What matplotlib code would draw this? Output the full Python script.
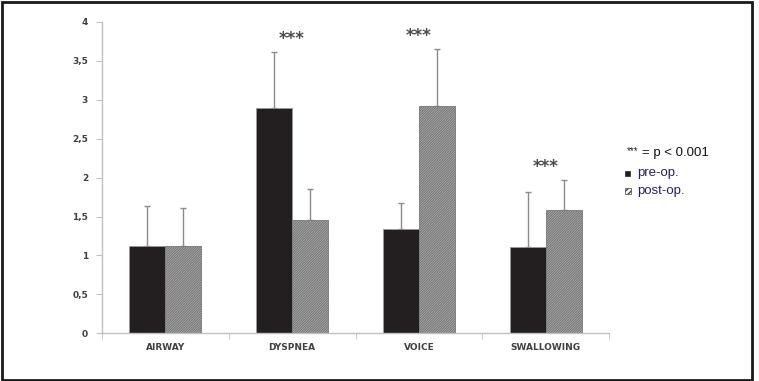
import matplotlib
matplotlib.use("Agg")
import matplotlib.pyplot as plt
import numpy as np
from matplotlib.patches import Rectangle

categories = ["AIRWAY", "DYSPNEA", "VOICE", "SWALLOWING"]
pre_op = [1.12, 2.89, 1.34, 1.11]
post_op = [1.12, 1.46, 2.92, 1.58]
pre_err = [0.52, 0.72, 0.33, 0.71]
post_err = [0.49, 0.40, 0.73, 0.39]
signif = ["", "***", "***", "***"]
yticks = [0, 0.5, 1, 1.5, 2, 2.5, 3, 3.5, 4]
ytick_labels = ["0", "0,5", "1", "1,5", "2", "2,5", "3", "3,5", "4"]

plt.rcParams['hatch.linewidth'] = 1.0
plt.rcParams['hatch.color'] = "#3a3a3a"
fig = plt.figure(figsize=(7.59, 3.81), dpi=100)
ax = fig.add_axes([0.1344, 0.1252, 0.668, 0.8171])

x = np.arange(len(categories))
w = 0.284
ax.bar(x - w/2, pre_op, w, color="#231f20", edgecolor="#9a9a9a", linewidth=0.6, zorder=2)
ax.bar(x + w/2, post_op, w, color="#f4f4f4", edgecolor="#777777", hatch="/" * 14, linewidth=0.6, zorder=2)
ax.errorbar(x - w/2, pre_op, yerr=[np.zeros(4), pre_err], fmt="none", ecolor="#8a8a8a",
            elinewidth=1.0, capsize=2.5, capthick=1.0, zorder=1)
ax.errorbar(x + w/2, post_op, yerr=[np.zeros(4), post_err], fmt="none", ecolor="#8a8a8a",
            elinewidth=1.0, capsize=2.5, capthick=1.0, zorder=1)

for i, s in enumerate(signif):
    if s:
        top = max(pre_op[i] + pre_err[i], post_op[i] + post_err[i])
        ax.text(x[i], top + 0.17, s, ha="center", va="center", fontsize=12,
                fontweight="bold", color="#4a4a4a")

ax.set_xlim(-0.5, 3.5)
ax.set_ylim(0, 4)
ax.set_yticks(yticks)
ax.set_yticklabels(ytick_labels, fontsize=6.5, fontweight="bold", color="#404040")
ax.set_xticks(x)
ax.set_xticklabels(categories, fontsize=6.5, fontweight="bold", color="#404040")
ax.tick_params(axis="x", which="major", length=0, pad=7)
ax.set_xticks(np.arange(-0.5, 4.0, 1.0), minor=True)
ax.tick_params(axis="x", which="minor", length=4, color="#c0c0c0", direction="out")
ax.tick_params(axis="y", length=4, color="#c0c0c0", pad=6)
for sp in ["top", "right"]:
    ax.spines[sp].set_visible(False)
for sp in ["left", "bottom"]:
    ax.spines[sp].set_color("#c0c0c0")
    ax.spines[sp].set_linewidth(1.0)

fam = ["Liberation Sans", "DejaVu Sans"]
fig.text(627/759, 1 - 151/381, "***", fontsize=7, color="#222222", va="center", ha="left", family=fam)
fig.text(642/759, 1 - 153/381, "= p < 0.001", fontsize=9.5, color="#111111", va="center", ha="left", family=fam)
fig.patches.append(Rectangle((625/759, 1 - 176/381), 5/759, 5/381, transform=fig.transFigure,
                             facecolor="#231f20", edgecolor="#231f20", linewidth=0.5))
fig.text(637/759, 1 - 173/381, "pre-op.", fontsize=9.5, color="#2b1f5c", va="center", ha="left", family=fam)
fig.patches.append(Rectangle((625/759, 1 - 194/381), 6/759, 6/381, transform=fig.transFigure,
                             facecolor="white", edgecolor="#444444", hatch="//////", linewidth=0.5))
fig.text(637/759, 1 - 191/381, "post-op.", fontsize=9.5, color="#2b1f5c", va="center", ha="left", family=fam)

fig.patches.append(Rectangle((1.5/759, 1.5/381), 750/759, 378/381, transform=fig.transFigure,
                             fill=False, edgecolor="#1a1a1a", linewidth=2.0))

fig.savefig("out.png", dpi=100)
